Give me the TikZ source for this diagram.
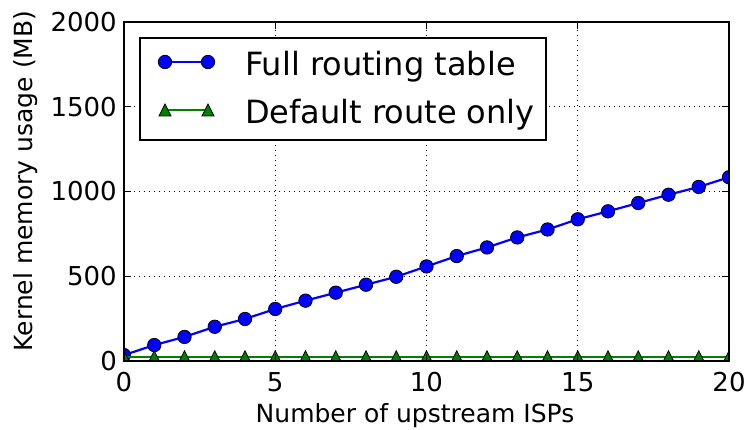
\documentclass[tikz,border=0pt]{standalone}
\usepackage{fontspec}
\setmainfont{DejaVu Sans}
\definecolor{mplblue}{RGB}{0,0,255}
\definecolor{mplgreen}{RGB}{0,128,0}

\begin{document}
\begin{tikzpicture}[x=30.25pt, y=0.1695pt,
        gridline/.style={black, line width=0.9pt, dash pattern=on 1pt off 4pt},
        tickline/.style={black, line width=1pt},
        fullline/.style={mplblue, line width=2.2pt},
        defline/.style={mplgreen, line width=2.2pt},
        fullmark/.style={fill=mplblue, draw=black, line width=0.8pt},
        defmark/.style={fill=mplgreen, draw=black, line width=0.8pt},
        ticklabel/.style={inner sep=0pt, font=\fontsize{26}{30}\selectfont},
        axislabel/.style={inner sep=0pt, font=\fontsize{25}{30}\selectfont},
        legendlabel/.style={inner sep=0pt, anchor=base west, font=\fontsize{32}{38}\selectfont}]
        \useasboundingbox (-124pt,-69pt) rectangle (625pt,361pt);

        % grid
        \foreach \x in {5,10,15} \draw[gridline] (\x,0) -- (\x,2000);
        \foreach \y in {500,1000,1500} \draw[gridline] (0,\y) -- (20,\y);

        \begin{scope}
            \clip (0,0) rectangle (20,2000);
            \draw[fullline] (0,35) -- (1,94) -- (2,142) -- (3,202) -- (4,248) -- (5,307) -- (6,356)
                -- (7,403) -- (8,450) -- (9,497) -- (10,558) -- (11,619) -- (12,670) -- (13,729)
                -- (14,776) -- (15,836) -- (16,883) -- (17,932) -- (18,981) -- (19,1027) -- (20,1084);
            \foreach \x/\y in {0/35,1/94,2/142,3/202,4/248,5/307,6/356,7/403,8/450,9/497,10/558,
                    11/619,12/670,13/729,14/776,15/836,16/883,17/932,18/981,19/1027,20/1084}
                \filldraw[fullmark] (\x,\y) circle (6.7pt);
            \draw[defline] (0,25) -- (20,25);
            \foreach \x in {0,...,20}
                \filldraw[defmark, shift={(\x,25)}] (0pt,6pt) -- (-6pt,-6pt) -- (6pt,-6pt) -- cycle;
        \end{scope}

        \draw[black, line width=2.5pt] (0,0) rectangle (20,2000);
        \foreach \x in {0,5,...,20} {
            \draw[tickline] (\x,0) -- ++(0,7pt);
            \draw[tickline] (\x,2000) -- ++(0,-7pt);
            \node[ticklabel, anchor=north] (xt\x) at ([yshift=-11pt]\x,0) {\x};
        }
        \foreach \y in {0,500,...,2000} {
            \draw[tickline] (0,\y) -- ++(7pt,0);
            \draw[tickline] (20,\y) -- ++(-7pt,0);
            \node[ticklabel, anchor=east] (yt\y) at ([xshift=-7pt]0,\y) {\y};
        }

        \node[axislabel, anchor=base] (xlab) at (291pt,-62pt) {Number of upstream ISPs};
        \node[axislabel, anchor=base, rotate=90] (ylab) at (-91pt,180pt) {Kernel memory usage (MB)};

        % legend
        \filldraw[fill=white, draw=black, line width=1.5pt] (16pt,221pt) rectangle (422pt,323pt);
        \draw[mplblue, line width=1.6pt] (41pt,299pt) -- (84pt,299pt);
        \filldraw[fullmark] (41pt,299pt) circle (6.7pt);
        \filldraw[fullmark] (84pt,299pt) circle (6.7pt);
        \draw[mplgreen, line width=1.6pt] (41pt,251pt) -- (84pt,251pt);
        \filldraw[defmark, shift={(41pt,251pt)}] (0pt,6pt) -- (-6pt,-6pt) -- (6pt,-6pt) -- cycle;
        \filldraw[defmark, shift={(84pt,251pt)}] (0pt,6pt) -- (-6pt,-6pt) -- (6pt,-6pt) -- cycle;
        \node[legendlabel] (lfull) at (121pt,285pt) {Full routing table};
        \node[legendlabel] (ldef) at (121pt,237pt) {Default route only};
\end{tikzpicture}
\end{document}
